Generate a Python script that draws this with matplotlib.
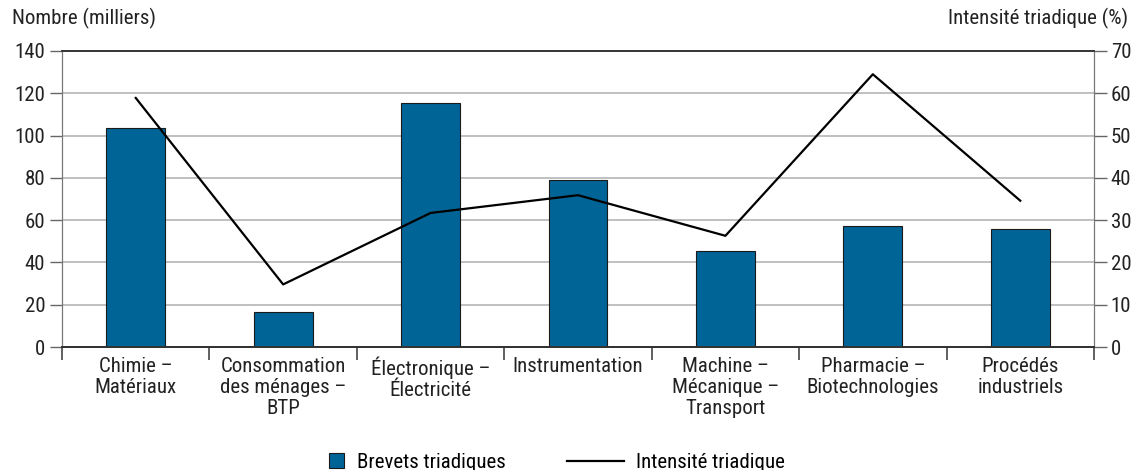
import matplotlib.pyplot as plt
import numpy as np
from matplotlib.lines import Line2D
from matplotlib.patches import Patch
from matplotlib import font_manager

avail = set(f.name for f in font_manager.fontManager.ttflist)
fams = [f for f in ['Roboto Condensed', 'Archivo Narrow', 'Barlow Condensed', 'Liberation Sans'] if f in avail]
plt.rcParams['font.family'] = fams + ['DejaVu Sans']

# Data
categories = ['Chimie –\nMatériaux', 'Consommation\ndes ménages –\nBTP', 'Électronique –\nÉlectricité',
              'Instrumentation', 'Machine –\nMécanique –\nTransport', 'Pharmacie –\nBiotechnologies',
              'Procédés\nindustriels']
brevets = [103.5, 16.5, 115.5, 79, 45.5, 57, 56]
intensite = [58.9, 14.8, 31.7, 35.9, 26.3, 64.5, 34.6]

bar_color = '#006496'
grid_color = '#b5b5b5'
fs = 15

fig = plt.figure(figsize=(11.34, 4.70), dpi=100)
ax = fig.add_axes([0.0547, 0.2617, 0.9100, 0.6298])
ax2 = ax.twinx()

x = np.arange(len(categories))
ax.bar(x, brevets, width=0.4, color=bar_color, edgecolor='#1a1a1a', linewidth=0.8, zorder=3)
ax2.plot(x, intensite, color='black', linewidth=1.6, zorder=4)

ax.set_xlim(-0.5, len(categories) - 0.5)
ax.set_ylim(0, 140)
ax2.set_ylim(0, 70)
ax.set_yticks(np.arange(0, 141, 20))
ax2.set_yticks(np.arange(0, 71, 10))

# grid lines
for v in np.arange(20, 140, 20):
    ax.axhline(v, color=grid_color, linewidth=1.2, zorder=1)

ax.set_xticks(x)
ax.set_xticklabels(categories, fontsize=fs, color='#222222', linespacing=1.15)
ax.set_xticks(np.arange(-0.5, len(categories), 1), minor=True)
ax.tick_params(axis='x', which='major', length=0, pad=7)
ax.tick_params(axis='x', which='minor', length=9, width=1.2, color='#444444', direction='out')

ax.tick_params(axis='y', labelsize=fs, length=9, width=1, color='#666666', labelcolor='#222222', pad=3)
ax2.tick_params(axis='y', labelsize=fs, length=9, width=1, color='#666666', labelcolor='#222222', pad=3)

for a in (ax, ax2):
    a.spines['left'].set_color('#777777')
    a.spines['right'].set_color('#777777')
    a.spines['top'].set_color('#333333')
    a.spines['bottom'].set_color('#333333')
    a.spines['top'].set_linewidth(1.2)
    a.spines['bottom'].set_linewidth(1.4)

fig.text(0.0106, 0.96, 'Nombre (milliers)', fontsize=fs, color='#222222', ha='left', va='center')
fig.text(0.995, 0.96, 'Intensité triadique (%)', fontsize=fs, color='#222222', ha='right', va='center')

# legend: two parts, different handle sizes
leg1 = fig.legend([Patch(facecolor=bar_color, edgecolor='#1a1a1a', linewidth=0.8)], ['Brevets triadiques'],
                  loc='center', bbox_to_anchor=(0.368, 0.016), frameon=False, fontsize=fs,
                  handlelength=0.72, handleheight=0.72, handletextpad=0.6)
leg2 = fig.legend([Line2D([0], [0], color='black', linewidth=1.6)], ['Intensité triadique'],
                  loc='center', bbox_to_anchor=(0.596, 0.016), frameon=False, fontsize=fs,
                  handlelength=2.75, handletextpad=0.6)

fig.savefig('out.png', dpi=100)
